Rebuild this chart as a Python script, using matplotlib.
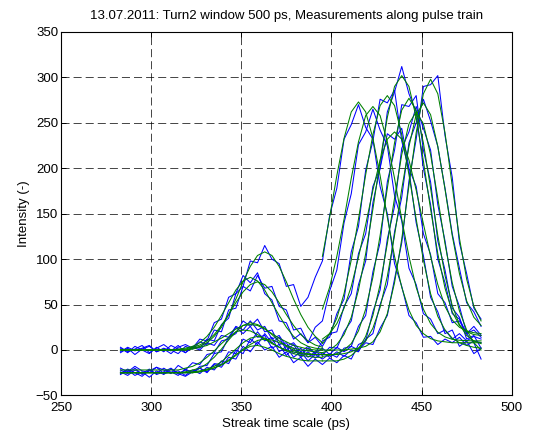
#! /usr/bin/env python3

import numpy as np
import matplotlib
matplotlib.use('Agg')
import matplotlib.pyplot as plt

# sampling grid of the streak traces (ps)
t = np.arange(283, 484, 4)
t_early = t[:29]   # window of the first (satellite) fit
t_late = t[28:]    # window of the main peak fit

# measured profiles (blue)
meas1 = [2, -3, 4, 0, -4, 3, -2, 5, 1, -3, 4, 2, 12, 10, 28, 35, 62, 70, 98, 96, 115, 100, 95, 70, 72, 48,
         58, 80, 98, 148, 178, 232, 248, 270, 245, 232, 180, 150, 95, 70, 38, 30, 14, 15, 6, 12, 8, 14, 5, 10, 8]
meas2 = [-2, 3, -1, 2, 5, -2, 1, -4, 3, 6, 2, 12, 10, 30, 34, 58, 62, 82, 74, 85, 62, 55, 32, 30, 12, 18,
         8, 25, 32, 65, 88, 140, 172, 226, 240, 265, 242, 225, 170, 142, 90, 72, 40, 34, 18, 22, 12, 18, 10, 15, 12]
meas3 = [-24, -28, -22, -26, -21, -27, -24, -20, -26, -22, -25, -18, -17, -4, -2, 14, 18, 32, 26, 34, 20, 22, 6, 8, -4, 2,
         -8, -2, -6, 3, 2, 20, 32, 72, 98, 162, 200, 262, 284, 312, 282, 262, 200, 160, 100, 74, 40, 34, 18, 22, 14]
meas4 = [-22, -26, -20, -27, -23, -19, -26, -24, -28, -21, -25, -20, -24, -15, -16, -2, -4, 12, 8, 20, 10, 14, -2, 4, -8, -2,
         -12, -5, -10, -4, -8, 2, 4, 26, 38, 86, 118, 185, 220, 270, 268, 280, 220, 185, 120, 88, 46, 36, 12, 16, 2]
meas5 = [-20, -24, -18, -23, -25, -19, -22, -26, -17, -22, -14, -16, -5, -3, 10, 12, 25, 18, 26, 14, 16, 2, 6, -6, 2, -8,
         -2, -9, -3, -8, -2, -7, 0, -2, 12, 18, 50, 72, 130, 168, 228, 250, 276, 252, 224, 178, 128, 90, 52, 42, 26]
meas6 = [-27, -22, -28, -24, -30, -23, -27, -21, -26, -29, -24, -20, -25, -16, -19, -8, -10, 4, -2, 9, 0, 4, -8, -2, -14, -8,
         -18, -10, -16, -9, -14, -6, -10, 6, 10, 42, 66, 122, 158, 222, 240, 268, 244, 220, 160, 120, 70, 48, 18, 8, -10]
meas7 = [3, -2, 1, 5, -3, 2, 6, 0, -4, 4, 1, 9, 6, 22, 20, 44, 46, 70, 65, 82, 68, 70, 48, 44, 22, 24,
         8, 14, 4, 18, 20, 48, 62, 106, 128, 180, 200, 238, 232, 244, 200, 180, 128, 105, 62, 52, 30, 32, 18, 26, 16]
meas8 = [-3, 2, -5, 1, 4, -2, 2, -1, 5, -3, 3, 0, 8, 5, 16, 14, 26, 22, 32, 22, 26, 12, 16, 4, 8, -2,
         4, -4, 2, -5, 3, -2, 4, 0, 8, 6, 24, 38, 78, 118, 186, 232, 290, 292, 302, 236, 190, 118, 84, 46, 34]
meas9 = [-26, -21, -25, -29, -22, -26, -20, -25, -23, -28, -22, -26, -19, -22, -12, -15, 0, -4, 12, 6, 18, 8, 14, 0, 6, -6,
         2, -4, 10, 14, 40, 56, 108, 136, 198, 230, 276, 272, 286, 230, 198, 140, 104, 58, 42, 18, 22, 4, 10, -4, 2]

# fitted satellite (green, early window)
fitA1 = [0, 0, 0, 0, 0, 0, 0, 0, 0, 0, 2, 4, 8, 15, 25, 39, 56, 75, 92, 104, 108, 104, 92, 75, 56, 39, 25, 15, 8]
fitA2 = [0, 0, 0, 0, 0, 0, 0, 0, 1, 2, 4, 8, 15, 25, 38, 52, 66, 76, 80, 76, 66, 52, 38, 25, 15, 8, 4, 2, 1]
fitA3 = [-25, -25, -25, -25, -25, -25, -25, -25, -25, -24, -22, -20, -15, -8, 1, 11, 20, 27, 30, 28, 24, 17, 10, 4, 0, -3,
         -4, -5, -5]
fitA4 = [-25, -25, -25, -25, -25, -25, -25, -25, -25, -25, -24, -23, -21, -18, -13, -6, 1, 8, 13, 15, 13, 8, 3, -1, -4, -6,
         -7, -8, -8]
fitA5 = [-22, -22, -22, -22, -22, -22, -22, -22, -22, -20, -18, -14, -8, -1, 7, 14, 20, 22, 21, 17, 12, 7, 3, 0, -2, -4,
         -5, -5, -5]
fitA6 = [-25, -25, -25, -25, -25, -25, -25, -25, -25, -25, -25, -24, -22, -19.5, -16, -11, -5, 0, 4, 5, 3, 0, -4, -7, -9, -11,
         -12, -12, -12]
fitA7 = [0, 0, 0, 0, 0, 0, 0, 0, 0, 1, 3, 5.5, 10, 17, 27, 39, 52, 64, 72, 75, 72, 64, 52, 39, 27, 17, 10, 5.5, 3]
fitA8 = [0, 0, 0, 0, 0, 0, 0, 0, 0, 0, 1, 3, 5, 9, 13, 18, 23, 27, 28, 27, 23, 18, 13, 9, 5, 3, 1, 0, 0]
fitA9 = [-25, -25, -25, -25, -25, -25, -25, -25, -25, -25, -25, -24, -22, -20, -16.5, -12, -6, 1, 6, 10.5, 12, 11, 8, 5, 2, 0,
         -1, -2, -3]

# fitted main peak (green, late window)
fitB1 = [103, 146, 192, 233, 262, 273, 262, 233, 192, 146, 103, 69, 44, 27, 18, 12.5, 10, 9, 8, 8, 8, 8, 8]
fitB2 = [45, 69, 103, 144, 189, 229, 258, 268, 258, 229, 189, 144, 103, 69, 45, 29, 19.5, 14.4, 11.8, 10.7, 10.3, 10, 10]
fitB3 = [-3, 0, 6, 17, 36, 66, 106, 155, 208, 256, 290, 302, 290, 256, 208, 155, 106, 68, 42, 27, 20, 17, 16]
fitB4 = [-7, -6, -4, 0, 7, 21, 45, 80, 126, 178, 228, 264, 277, 264, 228, 178, 126, 82, 49, 28, 16, 10, 7]
fitB5 = [-5, -5, -5, -4, -2, 2, 10, 24, 47, 81, 126, 177, 224, 259, 272, 259, 224, 177, 126, 84, 54, 36, 27]
fitB6 = [-12, -12, -12, -10, -6, 1, 15, 38, 72, 117, 167, 215, 249, 262, 249, 215, 167, 117, 74, 43, 22, 8, 0]
fitB7 = [12, 18, 29, 46, 70, 102, 138, 176, 209, 232, 240, 232, 209, 176, 139, 103, 72, 48, 33, 25, 21, 19, 18]
fitB8 = [0, 0, 0, 0, 1, 2, 4, 9, 20, 40, 74, 122, 181, 239, 282, 298, 282, 239, 181, 123, 78, 48, 32]
fitB9 = [7, 18, 35, 62, 99, 144, 193, 237, 269, 280, 269, 237, 193, 144, 99, 62, 37, 22, 13, 8, 5, 3, 2]

meas = [meas1, meas2, meas3, meas4, meas5, meas6, meas7, meas8, meas9]
fitsA = [fitA1, fitA2, fitA3, fitA4, fitA5, fitA6, fitA7, fitA8, fitA9]
fitsB = [fitB1, fitB2, fitB3, fitB4, fitB5, fitB6, fitB7, fitB8, fitB9]

plt.rcParams['font.family'] = ['Liberation Sans', 'DejaVu Sans']
plt.rcParams['font.size'] = 9.5
plt.rcParams['lines.scale_dashes'] = False

fig = plt.figure(figsize=(5.43, 4.34), dpi=100)
ax = fig.add_axes([0.1123, 0.0889, 0.8301, 0.8374])

for y in meas:
	ax.plot(t, y, color='#0000ff', lw=0.75)
for ya, yb in zip(fitsA, fitsB):
	ax.plot(t_early, ya, color='#008000', lw=0.75)
	ax.plot(t_late, yb, color='#008000', lw=0.75)

ax.set_xlim(250, 500)
ax.set_ylim(-50, 350)
ax.set_xticks(np.arange(250, 501, 50))
ax.set_yticks(np.arange(-50, 351, 50))
ax.grid(True, color='k', lw=0.6, linestyle=(0, (5.8, 2.9)), alpha=0.85)
ax.tick_params(direction='in', top=True, right=True, length=3.5, width=0.7, labelsize=9.5)
ax.tick_params(axis='x', pad=4.5)
ax.tick_params(axis='y', pad=2)
for s in ax.spines.values():
	s.set_linewidth(0.8)

ax.set_title('13.07.2011: Turn2 window 500 ps, Measurements along pulse train', fontsize=9.5, pad=9)
ax.set_xlabel('Streak time scale (ps)', labelpad=3)
ax.set_ylabel('Intensity (-)', labelpad=4)

fig.savefig('out.png', dpi=100)
